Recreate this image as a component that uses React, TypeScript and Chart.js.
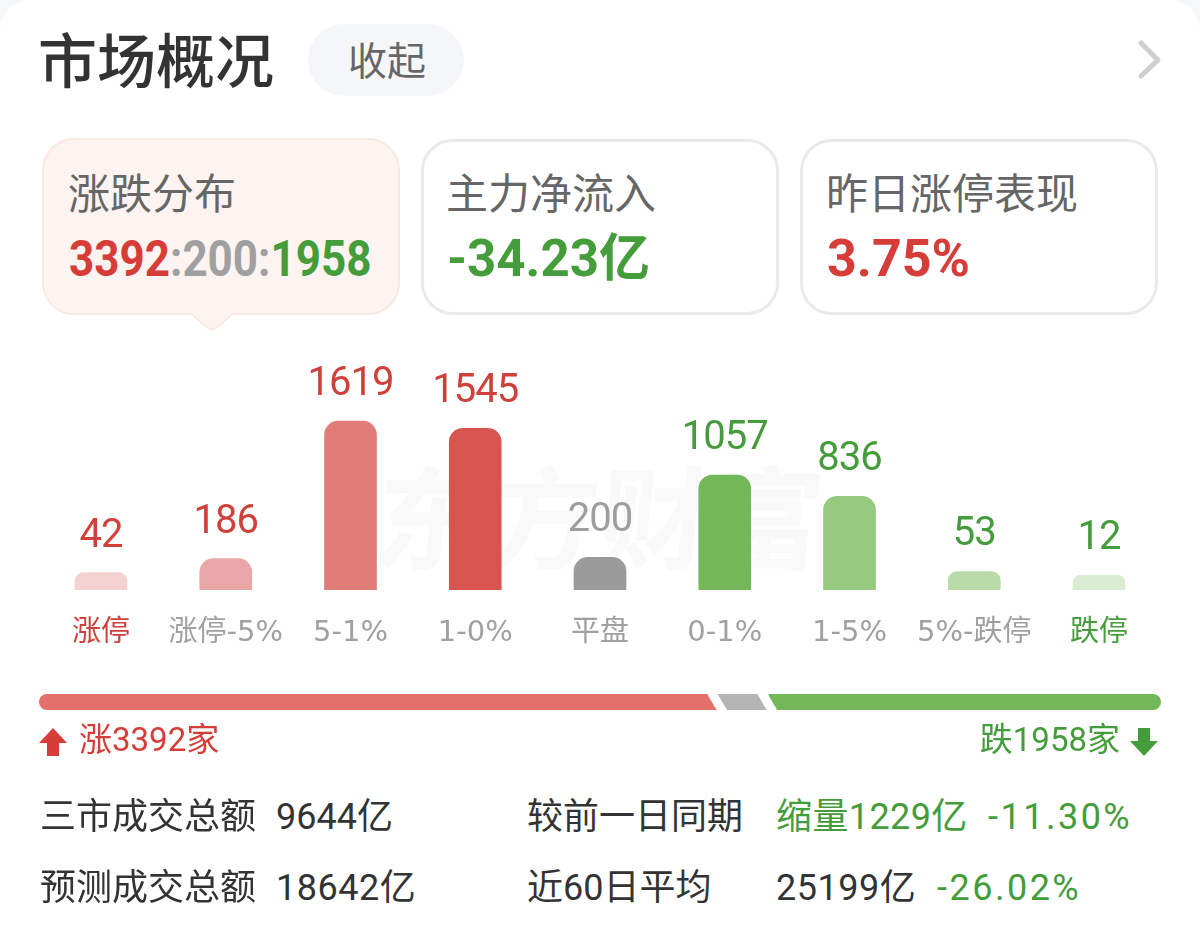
import React, { useEffect, useRef } from 'react';
import { Chart, registerables } from 'chart.js';

Chart.register(...registerables);

const categories = ['涨停', '涨停-5%', '5-1%', '1-0%', '平盘', '0-1%', '1-5%', '5%-跌停', '跌停'];
const counts = [42, 186, 1619, 1545, 200, 1057, 836, 53, 12];
const barColors = ['#f3d1d1', '#e9a6a6', '#e07d78', '#d8544f', '#9b9b9b', '#72b758', '#94c97e', '#b9dbaa', '#d9ecd1'];
const countColors = ['#cf403b', '#cf403b', '#cf403b', '#cf403b', '#9e9e9e', '#459c3a', '#459c3a', '#459c3a', '#459c3a'];
const tickColors = ['#cf403b', '#a0a0a0', '#a0a0a0', '#a0a0a0', '#a0a0a0', '#a0a0a0', '#a0a0a0', '#a0a0a0', '#459c3a'];

// el tramo gris tiene ancho minimo en la barra original, por eso 250 y no 200
const breadthLabels = ['涨', '平', '跌'];
const breadthValues = [3392, 250, 1958];
const breadthColors = ['#e46f6b', '#b4b4b4', '#72b758'];

const NUM = 'Roboto, "Noto Sans CJK SC", sans-serif';
const CJK = '"Noto Sans CJK SC", sans-serif';
const RED = '#d63c38';
const GREEN = '#459c3a';
const DARK = '#333333';

const BASE = -140; // las barras tienen una altura minima aunque el valor sea casi 0

const countLabels = {
  id: 'countLabels',
  afterDatasetsDraw(chart: any) {
    const { ctx } = chart;
    const meta = chart.getDatasetMeta(0);
    ctx.save();
    ctx.font = `400 40px ${NUM}`;
    ctx.textAlign = 'center';
    ctx.textBaseline = 'alphabetic';
    ctx.letterSpacing = '-1px';
    meta.data.forEach((bar: any, i: number) => {
      ctx.fillStyle = countColors[i];
      ctx.fillText(String(counts[i]), bar.x, bar.y - 26);
    });
    ctx.restore();
  },
};

const slantCuts = {
  id: 'slantCuts',
  afterDatasetsDraw(chart: any) {
    const { ctx, chartArea } = chart;
    ctx.save();
    ctx.strokeStyle = '#ffffff';
    ctx.lineWidth = 9;
    [0, 1].forEach((i) => {
      const bar = chart.getDatasetMeta(i).data[0];
      ctx.beginPath();
      ctx.moveTo(bar.x - 7.5, chartArea.top - 2);
      ctx.lineTo(bar.x + 4.5, chartArea.bottom + 2);
      ctx.stroke();
    });
    ctx.restore();
  },
};

const T = ({ x, y, size, color, weight, font, right, spacing, squeeze, children }: any) => (
  <div
    style={{
      position: 'absolute',
      left: right === undefined ? x : undefined,
      right: right,
      top: y - size,
      height: size * 2,
      lineHeight: `${size * 2}px`,
      fontSize: size,
      color,
      fontWeight: weight || 400,
      fontFamily: font || NUM,
      letterSpacing: spacing,
      whiteSpace: 'nowrap',
      transform: squeeze ? `scaleX(${squeeze})` : undefined,
      transformOrigin: 'left center',
    }}
  >
    {children}
  </div>
);

const App: React.FC = () => {
  const barsRef = useRef<HTMLCanvasElement>(null);
  const breadthRef = useRef<HTMLCanvasElement>(null);

  useEffect(() => {
    if (!barsRef.current || !breadthRef.current) return;

    const bars = new Chart(barsRef.current, {
      type: 'bar',
      data: {
        labels: categories,
        datasets: [
          {
            data: counts,
            base: BASE,
            backgroundColor: barColors,
            barThickness: 52,
            borderRadius: { topLeft: 14, topRight: 14 },
          },
        ],
      },
      options: {
        responsive: false,
        animation: false,
        layout: { padding: { left: 38.6, right: 38.6, top: 0, bottom: 0 } },
        plugins: { legend: { display: false }, tooltip: { enabled: false } },
        scales: {
          x: {
            grid: { display: false },
            border: { display: false },
            afterFit: (scale: any) => {
              scale.height = 60;
            },
            ticks: {
              autoSkip: false,
              maxRotation: 0,
              padding: 18,
              color: (c: any) => tickColors[c.index],
              font: { size: 29, family: '"DejaVu Sans", "Noto Sans CJK SC", sans-serif' },
            },
          },
          y: { display: false, min: BASE, max: 2464 },
        },
      },
      plugins: [countLabels],
    } as any);

    const breadth = new Chart(breadthRef.current, {
      type: 'bar',
      data: {
        labels: [''],
        datasets: breadthValues.map((v, i) => ({
          label: breadthLabels[i],
          data: [v],
          backgroundColor: breadthColors[i],
          barThickness: 16,
          inflateAmount: 0,
          borderSkipped: false,
          borderRadius:
            i === 0
              ? { topLeft: 8, bottomLeft: 8 }
              : i === 2
                ? { topRight: 8, bottomRight: 8 }
                : 0,
        })),
      },
      options: {
        indexAxis: 'y',
        responsive: false,
        animation: false,
        layout: { padding: { left: 39, right: 39, top: 4, bottom: 4 } },
        plugins: { legend: { display: false }, tooltip: { enabled: false } },
        scales: {
          x: { display: false, stacked: true, min: 0, max: 3392 + 250 + 1958 },
          y: { display: false, stacked: true },
        },
      },
      plugins: [slantCuts],
    } as any);

    return () => {
      bars.destroy();
      breadth.destroy();
    };
  }, []);

  return (
    <div style={{ position: 'absolute', left: 0, top: 0, width: 1200, height: 938, overflow: 'hidden', background: '#f7f8fa' }}>
      <div style={{ position: 'absolute', left: 0, top: 0, width: 1200, height: 938, borderRadius: '30px 30px 0 0', background: '#ffffff' }} />

      {/* cabecera */}
      <T x={38} y={58} size={59} color={DARK} weight={500} font={CJK}>市场概况</T>
      <div style={{ position: 'absolute', left: 308, top: 24, width: 156, height: 72, borderRadius: 36, background: '#f5f6f8' }} />
      <T x={348} y={58} size={39} color="#666666" font={CJK}>收起</T>
      <svg style={{ position: 'absolute', left: 1130, top: 36, width: 40, height: 48 }}>
        <path d="M11 7 L28 24 L11 40" fill="none" stroke="#cfcfcf" strokeWidth={5} strokeLinecap="round" strokeLinejoin="round" />
      </svg>

      {/* tarjetas */}
      <div style={{ position: 'absolute', left: 42, top: 138, width: 354, height: 173, borderRadius: 32, background: '#fdf4f1', border: '2px solid #f9e9e2' }} />
      <svg style={{ position: 'absolute', left: 190, top: 312, width: 44, height: 20 }}>
        <path d="M0 0 L18 16 Q22 19 26 16 L44 0 Z" fill="#fdf4f1" />
        <path d="M0 1 L18 16 Q22 19 26 16 L44 1" fill="none" stroke="#f9e9e2" strokeWidth={2} />
      </svg>
      <div style={{ position: 'absolute', left: 421, top: 139, width: 352, height: 170, borderRadius: 32, border: '3px solid #e8eaec' }} />
      <div style={{ position: 'absolute', left: 800, top: 139, width: 352, height: 170, borderRadius: 32, border: '3px solid #e8eaec' }} />

      <T x={68} y={191} size={42} color="#666666" font={CJK}>涨跌分布</T>
      <T x={69} y={259} size={50} weight={700} squeeze={0.88}>
        <span style={{ color: RED }}>3392</span>
        <span style={{ color: '#a0a0a0' }}>:200:</span>
        <span style={{ color: GREEN }}>1958</span>
      </T>
      <T x={446} y={191} size={42} color="#666666" font={CJK}>主力净流入</T>
      <T x={447} y={259} size={51} weight={700} color={GREEN}>-34.23亿</T>
      <T x={826} y={191} size={42} color="#666666" font={CJK}>昨日涨停表现</T>
      <T x={827} y={259} size={52} weight={700} color={RED}>3.75%</T>

      {/* marca de agua y barras */}
      <div
        style={{
          position: 'absolute',
          left: 376,
          top: 442,
          fontSize: 112,
          lineHeight: '140px',
          fontWeight: 700,
          color: '#f9f9f9',
          fontFamily: CJK,
          whiteSpace: 'nowrap',
          transform: 'skewX(-6deg)',
        }}
      >
        东方财富
      </div>
      <canvas ref={barsRef} width={1200} height={310} style={{ position: 'absolute', left: 0, top: 340 }} />

      {/* barra de amplitud */}
      <canvas ref={breadthRef} width={1200} height={24} style={{ position: 'absolute', left: 0, top: 690 }} />
      <svg style={{ position: 'absolute', left: 38, top: 726, width: 32, height: 32 }}>
        <path d="M15 2 L29 17 L21 17 L21 30 L9 30 L9 17 L1 17 Z" fill={RED} />
      </svg>
      <T x={79} y={740} size={33} color={RED}>涨3392家</T>
      <T right={80} y={740} size={33} color={GREEN}>跌1958家</T>
      <svg style={{ position: 'absolute', left: 1129, top: 726, width: 32, height: 32 }}>
        <path d="M15 30 L29 15 L21 15 L21 2 L9 2 L9 15 L1 15 Z" fill={GREEN} />
      </svg>

      {/* resumen */}
      <T x={40} y={817} size={36} color={DARK}>三市成交总额</T>
      <T x={276} y={817} size={36} color={DARK}>9644亿</T>
      <T x={527} y={817} size={36} color={DARK}>较前一日同期</T>
      <T x={776} y={817} size={36} color={GREEN} spacing={0.4}>缩量1229亿</T>
      <T x={988} y={817} size={36} color={GREEN} spacing={2.5}>-11.30%</T>
      <T x={40} y={888} size={36} color={DARK}>预测成交总额</T>
      <T x={276} y={888} size={36} color={DARK} spacing={0.5}>18642亿</T>
      <T x={527} y={888} size={36} color={DARK}>近60日平均</T>
      <T x={776} y={888} size={36} color={DARK} spacing={0.5}>25199亿</T>
      <T x={937} y={888} size={36} color={GREEN} spacing={2.5}>-26.02%</T>
    </div>
  );
};

export default App;
